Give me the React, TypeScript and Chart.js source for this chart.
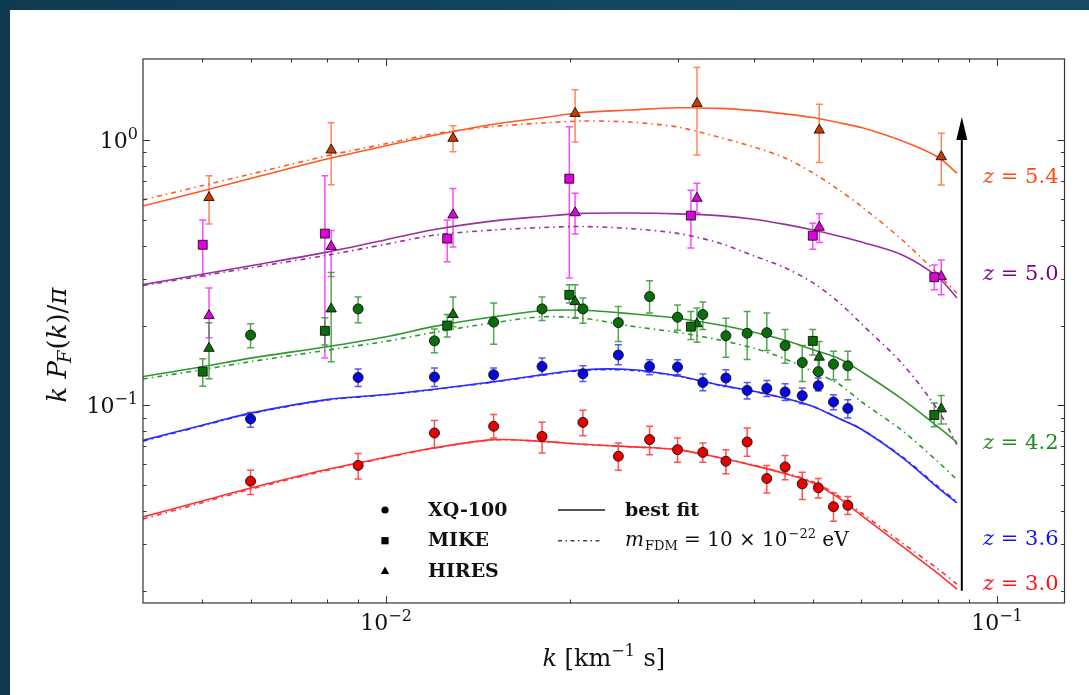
import React, { useEffect, useRef } from 'react';
import { Chart, registerables } from 'chart.js';

Chart.register(...registerables);

const FAMILY = "'DejaVu Serif', 'Liberation Serif', serif";

// ---------- wavenumbers k [km^-1 s] ----------
const kXQ100 = [0.006, 0.009, 0.012, 0.015, 0.018, 0.021, 0.024, 0.027, 0.03, 0.033, 0.036, 0.039, 0.042, 0.045, 0.048, 0.051, 0.054, 0.057];
const kMIKE = [0.00501, 0.00794, 0.01259, 0.01995, 0.03155, 0.04995, 0.07897];
const kHIRES = [0.00513, 0.00813, 0.01287, 0.02039, 0.03228, 0.05118, 0.08107];
const kModel = [0.004, 0.005, 0.006, 0.008, 0.01, 0.012, 0.015, 0.018, 0.021, 0.025, 0.03, 0.035, 0.04, 0.045, 0.05, 0.055, 0.06, 0.07, 0.08, 0.086];

// ---------- z = 5.4 ----------
const z54HiresY = [0.607, 0.917, 1.015, 1.26, 1.374, 1.09, 0.865];
const z54HiresLo = [0.483, 0.679, 0.904, 0.983, 0.878, 0.822, 0.677];
const z54HiresHi = [0.734, 1.162, 1.132, 1.546, 1.878, 1.363, 1.06];
const fit54 = [0.564, 0.643, 0.716, 0.848, 0.951, 1.043, 1.147, 1.213, 1.269, 1.297, 1.323, 1.316, 1.291, 1.255, 1.215, 1.164, 1.114, 0.991, 0.863, 0.75];
const fdm54 = [0.595, 0.673, 0.744, 0.872, 0.969, 1.056, 1.125, 1.159, 1.179, 1.169, 1.119, 1.026, 0.941, 0.856, 0.751, 0.651, 0.562, 0.42, 0.313, 0.265];

// ---------- z = 5.0 ----------
const z50MikeY = [0.403, 0.444, 0.425, 0.715, 0.519, 0.436, 0.304];
const z50MikeLo = [0.306, 0.151, 0.348, 0.302, 0.392, 0.388, 0.273];
const z50MikeHi = [0.5, 0.734, 0.5, 1.122, 0.647, 0.486, 0.338];
const z50HiresY = [0.218, 0.397, 0.522, 0.532, 0.603, 0.469, 0.306];
const z50HiresLo = [0.18, 0.306, 0.395, 0.442, 0.531, 0.411, 0.261];
const z50HiresHi = [0.277, 0.456, 0.656, 0.63, 0.687, 0.527, 0.353];
const fit50 = [0.285, 0.312, 0.336, 0.378, 0.421, 0.46, 0.496, 0.515, 0.529, 0.531, 0.527, 0.519, 0.503, 0.481, 0.458, 0.435, 0.413, 0.369, 0.305, 0.254];
const fdm50 = [0.283, 0.308, 0.33, 0.368, 0.405, 0.438, 0.458, 0.468, 0.472, 0.464, 0.445, 0.41, 0.366, 0.33, 0.2895, 0.2456, 0.203, 0.1435, 0.0963, 0.0711];

// ---------- z = 4.2 ----------
const z42XqY = [0.184, 0.231, 0.175, 0.206, 0.231, 0.231, 0.205, 0.257, 0.215, 0.22, 0.183, 0.187, 0.188, 0.168, 0.145, 0.134, 0.143, 0.141];
const z42XqLo = [0.165, 0.205, 0.158, 0.17, 0.209, 0.204, 0.174, 0.223, 0.192, 0.193, 0.152, 0.149, 0.161, 0.144, 0.123, 0.121, 0.125, 0.125];
const z42XqHi = [0.203, 0.256, 0.194, 0.243, 0.256, 0.254, 0.236, 0.295, 0.239, 0.245, 0.213, 0.226, 0.223, 0.193, 0.168, 0.149, 0.16, 0.16];
const z42MikeY = [0.134, 0.191, 0.2, 0.261, 0.198, 0.175, 0.092];
const z42MikeLo = [0.118, 0.169, 0.181, 0.243, 0.177, 0.155, 0.083];
const z42MikeHi = [0.15, 0.214, 0.22, 0.285, 0.226, 0.193, 0.102];
const z42HiresY = [0.164, 0.231, 0.22, 0.246, 0.203, 0.152, 0.097];
const z42HiresLo = [0.126, 0.146, 0.198, 0.213, 0.173, 0.131, 0.085];
const z42HiresHi = [0.205, 0.317, 0.256, 0.285, 0.233, 0.174, 0.109];
const fit42 = [0.1285, 0.1398, 0.1507, 0.1663, 0.1814, 0.1985, 0.2157, 0.2272, 0.2282, 0.2218, 0.2131, 0.2012, 0.1886, 0.1759, 0.1621, 0.1505, 0.1339, 0.1055, 0.0831, 0.0726];
const fdm42 = [0.1257, 0.1363, 0.1461, 0.1614, 0.1744, 0.1886, 0.2048, 0.2157, 0.2129, 0.1995, 0.1883, 0.1767, 0.1642, 0.1498, 0.1339, 0.1207, 0.1032, 0.0803, 0.0614, 0.0525];

// ---------- z = 3.6 ----------
const z36XqY = [0.0889, 0.1274, 0.1279, 0.1305, 0.1402, 0.1316, 0.1548, 0.1402, 0.1395, 0.122, 0.1268, 0.1139, 0.1159, 0.1123, 0.1088, 0.1186, 0.103, 0.0974];
const z36XqLo = [0.0827, 0.1179, 0.1179, 0.1231, 0.1305, 0.1231, 0.1423, 0.1305, 0.1305, 0.1136, 0.1179, 0.1057, 0.1081, 0.1044, 0.1015, 0.1134, 0.0963, 0.0897];
const z36XqHi = [0.0941, 0.1371, 0.1383, 0.1383, 0.1509, 0.1411, 0.1692, 0.1486, 0.1486, 0.1313, 0.1363, 0.122, 0.1242, 0.1207, 0.1163, 0.1268, 0.1097, 0.1051];
const fit36 = [0.0738, 0.0842, 0.0935, 0.1051, 0.1099, 0.1151, 0.1228, 0.1305, 0.1363, 0.1366, 0.1294, 0.1197, 0.1131, 0.1064, 0.0991, 0.0895, 0.0813, 0.0636, 0.049, 0.0429];
const fdm36 = [0.0733, 0.0838, 0.0931, 0.1047, 0.1096, 0.1148, 0.1224, 0.1299, 0.1355, 0.1357, 0.1288, 0.1193, 0.1128, 0.1062, 0.099, 0.0896, 0.0815, 0.064, 0.0495, 0.0434];

// ---------- z = 3.0 ----------
const z30XqY = [0.0518, 0.0594, 0.0787, 0.0834, 0.0764, 0.0863, 0.0643, 0.0743, 0.0681, 0.0665, 0.0616, 0.0728, 0.053, 0.0586, 0.0506, 0.0489, 0.0415, 0.042];
const z30XqLo = [0.0461, 0.0528, 0.0691, 0.0754, 0.0662, 0.0769, 0.0569, 0.0652, 0.061, 0.061, 0.0553, 0.0643, 0.0468, 0.0525, 0.0442, 0.0448, 0.0366, 0.0388];
const z30XqHi = [0.0569, 0.0658, 0.0878, 0.0923, 0.0863, 0.0958, 0.0722, 0.0834, 0.0754, 0.0722, 0.0681, 0.0822, 0.0593, 0.0647, 0.056, 0.053, 0.0468, 0.0454];
const fit30 = [0.038, 0.0436, 0.0488, 0.0573, 0.0638, 0.0692, 0.0743, 0.0732, 0.0714, 0.0699, 0.0681, 0.0636, 0.0593, 0.0553, 0.051, 0.0449, 0.0385, 0.0294, 0.0233, 0.0203];
const fdm30 = [0.0373, 0.043, 0.0483, 0.0569, 0.0635, 0.069, 0.0741, 0.0731, 0.0713, 0.0698, 0.0681, 0.0637, 0.0595, 0.0556, 0.0515, 0.0456, 0.0393, 0.0303, 0.0242, 0.0212];

// ---------- axes / annotations ----------
const xMin = 0.004;
const xMax = 0.129;
const yMin = 0.018;
const yMax = 2.02;
const xMajorTicks = [0.01, 0.1];
const xMajorExp = ['\u22122', '\u22121'];
const xMinorTicks = [0.005, 0.006, 0.007, 0.008, 0.009, 0.02, 0.03, 0.04, 0.05, 0.06, 0.07, 0.08, 0.09];
const yMajorTicks = [0.1, 1];
const yMajorExp = ['\u22121', '0'];
const yMinorTicks = [0.02, 0.03, 0.04, 0.05, 0.06, 0.07, 0.08, 0.09, 0.2, 0.3, 0.4, 0.5, 0.6, 0.7, 0.8, 0.9];
const zLabels = ['5.4', '5.0', '4.2', '3.6', '3.0'];
const zLabelY = [0.732, 0.317, 0.0732, 0.0317, 0.0215];
const arrowK = 0.0876;
const arrowFrom = 0.02;
const arrowTo = 1.22;

const STYLE: Record<string, { line: string; err: string; fill: string; text: string }> = {
  '5.4': { line: '#ff5a26', err: 'rgba(255,112,64,0.85)', fill: '#cc3a00', text: '#ff4a10' },
  '5.0': { line: '#96329c', err: 'rgba(255,40,255,0.85)', fill: '#e000e0', text: '#800080' },
  '4.2': { line: '#2f972f', err: 'rgba(50,150,50,0.85)', fill: '#0a6e0a', text: '#1f8a1f' },
  '3.6': { line: '#2b2bff', err: 'rgba(45,45,255,0.8)', fill: '#0606e0', text: '#1010ff' },
  '3.0': { line: '#ff3232', err: 'rgba(255,50,50,0.85)', fill: '#e80000', text: '#ff1010' },
};

type Shape = 'circle' | 'rect' | 'triangle';
interface Obs { shape: Shape; k: number[]; y: number[]; lo: number[]; hi: number[] }
interface Group { z: string; fit: number[]; fdm: number[]; obs: Obs[] }

const groups: Group[] = [
  { z: '5.4', fit: fit54, fdm: fdm54, obs: [{ shape: 'triangle', k: kHIRES, y: z54HiresY, lo: z54HiresLo, hi: z54HiresHi }] },
  {
    z: '5.0', fit: fit50, fdm: fdm50, obs: [
      { shape: 'rect', k: kMIKE, y: z50MikeY, lo: z50MikeLo, hi: z50MikeHi },
      { shape: 'triangle', k: kHIRES, y: z50HiresY, lo: z50HiresLo, hi: z50HiresHi },
    ],
  },
  {
    z: '4.2', fit: fit42, fdm: fdm42, obs: [
      { shape: 'circle', k: kXQ100, y: z42XqY, lo: z42XqLo, hi: z42XqHi },
      { shape: 'rect', k: kMIKE, y: z42MikeY, lo: z42MikeLo, hi: z42MikeHi },
      { shape: 'triangle', k: kHIRES, y: z42HiresY, lo: z42HiresLo, hi: z42HiresHi },
    ],
  },
  { z: '3.6', fit: fit36, fdm: fdm36, obs: [{ shape: 'circle', k: kXQ100, y: z36XqY, lo: z36XqLo, hi: z36XqHi }] },
  { z: '3.0', fit: fit30, fdm: fdm30, obs: [{ shape: 'circle', k: kXQ100, y: z30XqY, lo: z30XqLo, hi: z30XqHi }] },
];

const RADIUS: Record<Shape, number> = { circle: 5, rect: 6.3, triangle: 6 };

function buildDatasets() {
  const ds: any[] = [];
  groups.forEach((g) => {
    const st = STYLE[g.z];
    ds.push({
      type: 'line',
      data: kModel.map((k, i) => ({ x: k, y: g.fdm[i] })),
      borderColor: st.line,
      borderWidth: 1.6,
      borderDash: [5, 4, 1.5, 4],
      pointRadius: 0,
      tension: 0.3,
      fill: false,
      order: 6,
    });
    ds.push({
      type: 'line',
      data: kModel.map((k, i) => ({ x: k, y: g.fit[i] })),
      borderColor: st.line,
      borderWidth: 1.6,
      pointRadius: 0,
      tension: 0.3,
      fill: false,
      order: 5,
    });
    g.obs.forEach((o) => {
      ds.push({
        type: 'scatter',
        data: o.k.map((k, i) => ({ x: k, y: o.y[i], lo: o.lo[i], hi: o.hi[i] })),
        pointStyle: o.shape,
        pointRadius: RADIUS[o.shape],
        backgroundColor: st.fill,
        borderColor: '#111',
        borderWidth: 0.9,
        errColor: st.err,
        showLine: false,
        order: 1,
      });
    });
  });
  return ds;
}

interface Seg { t: string; size?: number; style?: string; weight?: string; dy?: number; dx?: number }

function setFont(ctx: CanvasRenderingContext2D, s: Seg, base: number) {
  ctx.font = `${s.style || 'normal'} ${s.weight || 'normal'} ${s.size || base}px ${FAMILY}`;
}

function drawRich(ctx: CanvasRenderingContext2D, segs: Seg[], x: number, y: number, align: 'left' | 'center' | 'right', base: number, color: string) {
  ctx.fillStyle = color;
  ctx.textAlign = 'left';
  ctx.textBaseline = 'alphabetic';
  let w = 0;
  for (const s of segs) {
    setFont(ctx, s, base);
    w += ctx.measureText(s.t).width + (s.dx || 0);
  }
  let cx = align === 'center' ? x - w / 2 : align === 'right' ? x - w : x;
  for (const s of segs) {
    setFont(ctx, s, base);
    cx += s.dx || 0;
    ctx.fillText(s.t, cx, y + (s.dy || 0));
    cx += ctx.measureText(s.t).width;
  }
}

const errorBarPlugin = {
  id: 'errorBars',
  beforeDatasetsDraw(chart: any) {
    const { ctx, chartArea } = chart;
    const xs = chart.scales.x;
    const ys = chart.scales.y;
    ctx.save();
    ctx.beginPath();
    ctx.rect(chartArea.left, chartArea.top, chartArea.right - chartArea.left, chartArea.bottom - chartArea.top);
    ctx.clip();
    ctx.lineWidth = 1.5;
    chart.data.datasets.forEach((d: any) => {
      if (!d.errColor) return;
      ctx.strokeStyle = d.errColor;
      d.data.forEach((p: any) => {
        const px = xs.getPixelForValue(p.x);
        const y1 = ys.getPixelForValue(p.lo);
        const y2 = ys.getPixelForValue(p.hi);
        ctx.beginPath();
        ctx.moveTo(px, y1);
        ctx.lineTo(px, y2);
        ctx.moveTo(px - 3.5, y1);
        ctx.lineTo(px + 3.5, y1);
        ctx.moveTo(px - 3.5, y2);
        ctx.lineTo(px + 3.5, y2);
        ctx.stroke();
      });
    });
    ctx.restore();
  },
};

const decorPlugin = {
  id: 'decor',
  afterDraw(chart: any) {
    const { ctx, chartArea } = chart;
    const { left, right, top, bottom } = chartArea;
    const xs = chart.scales.x;
    const ys = chart.scales.y;
    ctx.save();

    // frame
    ctx.strokeStyle = '#333';
    ctx.lineWidth = 1.2;
    ctx.strokeRect(left, top, right - left, bottom - top);

    // ticks (inward, all four sides)
    ctx.lineWidth = 1;
    ctx.strokeStyle = '#333';
    const xTick = (v: number, len: number) => {
      const px = Math.round(xs.getPixelForValue(v)) + 0.5;
      ctx.beginPath();
      ctx.moveTo(px, bottom);
      ctx.lineTo(px, bottom - len);
      ctx.moveTo(px, top);
      ctx.lineTo(px, top + len);
      ctx.stroke();
    };
    const yTick = (v: number, len: number) => {
      const py = Math.round(ys.getPixelForValue(v)) + 0.5;
      ctx.beginPath();
      ctx.moveTo(left, py);
      ctx.lineTo(left + len, py);
      ctx.moveTo(right, py);
      ctx.lineTo(right - len, py);
      ctx.stroke();
    };
    xMinorTicks.forEach((v) => xTick(v, 3.5));
    xMajorTicks.forEach((v) => xTick(v, 7));
    yMinorTicks.forEach((v) => yTick(v, 3.5));
    yMajorTicks.forEach((v) => yTick(v, 7));

    // tick labels
    xMajorTicks.forEach((v, i) => {
      const px = xs.getPixelForValue(v);
      drawRich(ctx, [{ t: '10' }, { t: xMajorExp[i], size: 16, dy: -9 }], px, bottom + 27, 'center', 22, '#111');
    });
    yMajorTicks.forEach((v, i) => {
      const py = ys.getPixelForValue(v);
      drawRich(ctx, [{ t: '10' }, { t: yMajorExp[i], size: 16, dy: -9 }], left - 5, py + 8, 'right', 22, '#111');
    });

    // axis titles
    drawRich(
      ctx,
      [{ t: 'k', style: 'italic' }, { t: ' [km' }, { t: '\u22121', size: 16, dy: -10 }, { t: ' s]', dx: 1 }],
      (left + right) / 2,
      bottom + 63,
      'center',
      24,
      '#111',
    );
    ctx.save();
    ctx.translate(left - 77, (top + bottom) / 2 + 14);
    ctx.rotate(-Math.PI / 2);
    drawRich(
      ctx,
      [
        { t: 'k', style: 'italic' },
        { t: ' ' },
        { t: 'P', style: 'italic' },
        { t: 'F', style: 'italic', size: 18, dy: 5, dx: -2 },
        { t: '(', dx: 1 },
        { t: 'k', style: 'italic' },
        { t: ')/' },
        { t: '\u03c0', style: 'italic' },
      ],
      0,
      0,
      'center',
      26,
      '#111',
    );
    ctx.restore();

    // arrow
    const ax = xs.getPixelForValue(arrowK);
    const ay0 = ys.getPixelForValue(arrowFrom);
    const ay1 = ys.getPixelForValue(arrowTo);
    ctx.strokeStyle = '#000';
    ctx.fillStyle = '#000';
    ctx.lineWidth = 2;
    ctx.beginPath();
    ctx.moveTo(ax, ay0);
    ctx.lineTo(ax, ay1 + 18);
    ctx.stroke();
    ctx.beginPath();
    ctx.moveTo(ax, ay1);
    ctx.lineTo(ax - 5.5, ay1 + 23);
    ctx.lineTo(ax + 5.5, ay1 + 23);
    ctx.closePath();
    ctx.fill();

    // z labels
    zLabels.forEach((z, i) => {
      const py = ys.getPixelForValue(zLabelY[i]);
      drawRich(ctx, [{ t: 'z', style: 'italic' }, { t: ' = ' + z }], right - 6, py + 7.5, 'right', 21, STYLE[z].text);
    });

    // legend
    const mx = left + 242;
    const rows = [top + 451, top + 481.7, top + 512];
    ctx.fillStyle = '#000';
    ctx.beginPath();
    ctx.arc(mx, rows[0], 3.6, 0, Math.PI * 2);
    ctx.fill();
    ctx.fillRect(mx - 3.6, rows[1] - 3.6, 7.2, 7.2);
    ctx.beginPath();
    ctx.moveTo(mx, rows[2] - 4.6);
    ctx.lineTo(mx - 4.2, rows[2] + 3);
    ctx.lineTo(mx + 4.2, rows[2] + 3);
    ctx.closePath();
    ctx.fill();
    const names = ['XQ-100', 'MIKE', 'HIRES'];
    names.forEach((n, i) => {
      drawRich(ctx, [{ t: n, weight: 'bold' }], left + 285, rows[i] + 5.5, 'left', 19, '#111');
    });
    ctx.strokeStyle = '#555';
    ctx.lineWidth = 2;
    ctx.beginPath();
    ctx.moveTo(left + 415, rows[0]);
    ctx.lineTo(left + 462, rows[0]);
    ctx.stroke();
    ctx.strokeStyle = '#444';
    ctx.lineWidth = 1.4;
    ctx.setLineDash([4, 3.5, 1.5, 3.5]);
    ctx.beginPath();
    ctx.moveTo(left + 415, rows[1]);
    ctx.lineTo(left + 458, rows[1]);
    ctx.stroke();
    ctx.setLineDash([]);
    drawRich(ctx, [{ t: 'best fit', weight: 'bold' }], left + 482, rows[0] + 5.5, 'left', 19, '#111');
    drawRich(
      ctx,
      [
        { t: 'm', style: 'italic' },
        { t: 'FDM', size: 13, dy: 4, dx: 1 },
        { t: ' = 10 \u00d7 10' },
        { t: '\u221222', size: 13, dy: -8, dx: 1 },
        { t: ' eV' },
      ],
      left + 482,
      rows[1] + 5.5,
      'left',
      20,
      '#111',
    );

    ctx.restore();
  },
};

export default function App() {
  const ref = useRef<HTMLCanvasElement>(null);
  useEffect(() => {
    if (!ref.current) return;
    const chart = new Chart(ref.current, {
      type: 'scatter',
      data: { datasets: buildDatasets() },
      options: {
        responsive: false,
        devicePixelRatio: 1,
        animation: false,
        events: [],
        layout: { padding: { left: 133, top: 49, right: 24.5, bottom: 92 } },
        scales: {
          x: { type: 'logarithmic', min: xMin, max: xMax, display: false, bounds: 'data' },
          y: { type: 'logarithmic', min: yMin, max: yMax, display: false, bounds: 'data' },
        },
        plugins: { legend: { display: false }, tooltip: { enabled: false } },
      } as any,
      plugins: [errorBarPlugin, decorPlugin],
    });
    return () => chart.destroy();
  }, []);
  return (
    <div style={{ position: 'fixed', left: 0, top: 0, width: 1089, height: 695, background: 'linear-gradient(90deg, #0f3a52 0%, #134760 60%, #154c68 100%)' }}>
      <div style={{ position: 'absolute', left: 10, top: 10, width: 1079, height: 685, background: '#ffffff' }}>
        <canvas ref={ref} width={1079} height={685} style={{ display: 'block' }} />
      </div>
    </div>
  );
}
